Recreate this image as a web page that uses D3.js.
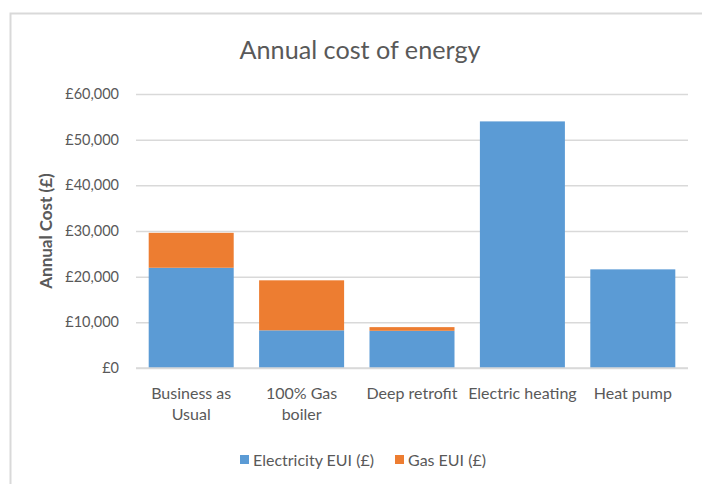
<!DOCTYPE html>
<html>
<head>
<meta charset="utf-8">
<script src="https://cdn.jsdelivr.net/npm/d3@7"></script>
<style>
  html, body { margin: 0; padding: 0; background: #fff; }
  svg { display: block; font-family: Lato, "Open Sans", sans-serif; }
</style>
</head>
<body>
<svg id="chart" width="702" height="484"></svg>
<script>
// Scenario categories (label lines) and their annual energy cost components
const categories = ["Business as Usual", "100% Gas boiler", "Deep retrofit", "Electric heating", "Heat pump"];
const categoryLines = [["Business as", "Usual"], ["100% Gas", "boiler"], ["Deep retrofit"], ["Electric heating"], ["Heat pump"]];
const electricity = [21950, 8250, 8150, 54000, 21600];
const gas = [7650, 10950, 800, 0, 0];
const seriesNames = ["Electricity EUI (£)", "Gas EUI (£)"];
const seriesColors = ["#5b9bd5", "#ed7d31"];
const yTicks = [0, 10000, 20000, 30000, 40000, 50000, 60000];

const svg = d3.select("#chart");
const textColor = "#595959";
const gridColor = "#d9d9d9";

// Chart area frame
svg.append("path")
  .attr("d", "M10.5,484 L10.5,13.5 L702,13.5")
  .attr("fill", "none")
  .attr("stroke", gridColor)
  .attr("stroke-width", 2);

const plot = { left: 136, right: 688, top: 94, bottom: 368 };

const x = d3.scaleBand().domain(categories).range([plot.left, plot.right]).paddingInner(0.23).paddingOuter(0.115);
const y = d3.scaleLinear().domain([0, 60000]).range([plot.bottom, plot.top]);

// Gridlines and value labels
const yAxis = d3.axisLeft(y).tickValues(yTicks)
  .tickSize(-(plot.right - plot.left))
  .tickPadding(17)
  .tickFormat(d => "£" + d3.format(",")(d));
const gy = svg.append("g").attr("transform", `translate(${plot.left},0)`).call(yAxis);
gy.select(".domain").remove();
gy.selectAll(".tick line").attr("stroke", gridColor).attr("stroke-width", 1.5);
gy.selectAll(".tick text").attr("fill", textColor).attr("font-size", 14.5).attr("font-family", "Lato, sans-serif");

// Stacked bars
const rows = categories.map((c, i) => ({ cat: c, Electricity: electricity[i], Gas: gas[i] }));
const stack = d3.stack().keys(["Electricity", "Gas"])(rows);
svg.append("g").selectAll("g").data(stack).join("g")
  .attr("fill", (d, i) => seriesColors[i])
  .selectAll("rect").data(d => d.filter(p => p[1] > p[0])).join("rect")
  .attr("x", d => x(d.data.cat))
  .attr("width", x.bandwidth())
  .attr("y", d => y(d[1]))
  .attr("height", d => y(d[0]) - y(d[1]));

// Baseline
svg.append("line")
  .attr("x1", plot.left).attr("x2", plot.right)
  .attr("y1", y(0)).attr("y2", y(0))
  .attr("stroke", gridColor).attr("stroke-width", 1.5);

// Category labels
const xl = svg.append("g");
categories.forEach((c, i) => {
  const t = xl.append("text")
    .attr("x", x(c) + x.bandwidth() / 2)
    .attr("y", 399)
    .attr("text-anchor", "middle")
    .attr("fill", textColor)
    .attr("font-size", 16);
  categoryLines[i].forEach((line, j) => {
    t.append("tspan").attr("x", x(c) + x.bandwidth() / 2).attr("dy", j === 0 ? 0 : 21).text(line);
  });
});

// Title
svg.append("text")
  .attr("x", 360).attr("y", 59)
  .attr("text-anchor", "middle")
  .attr("fill", textColor)
  .attr("font-size", 25.2)
  .text("Annual cost of energy");

// Y axis title
svg.append("text")
  .attr("transform", `translate(52,${231}) rotate(-90)`)
  .attr("text-anchor", "middle")
  .attr("fill", textColor)
  .attr("font-size", 17)
  .attr("font-weight", "bold")
  .text("Annual Cost (£)");

// Legend
const legendX = [240, 395];
seriesNames.forEach((name, i) => {
  const g = svg.append("g").attr("transform", `translate(${legendX[i]},455)`);
  g.append("rect").attr("width", 9).attr("height", 9).attr("fill", seriesColors[i]);
  g.append("text").attr("x", 13).attr("y", 11).attr("fill", textColor).attr("font-size", 16).text(name);
});
</script>
</body>
</html>
